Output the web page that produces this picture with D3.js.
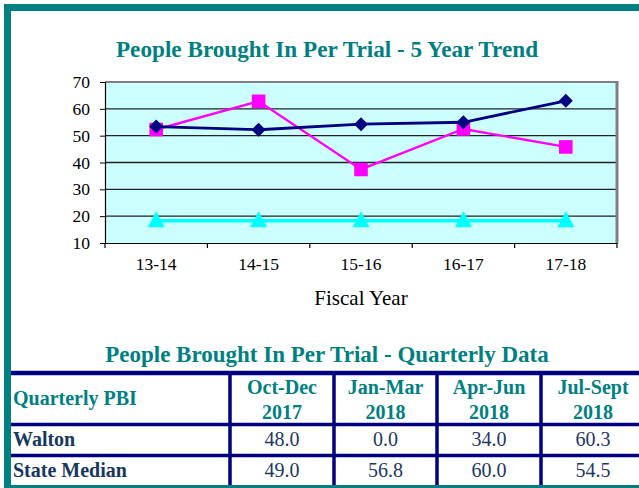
<!DOCTYPE html>
<html>
<head>
<meta charset="utf-8">
<script src="https://cdn.jsdelivr.net/npm/d3@7"></script>
<style>
  html, body { margin: 0; padding: 0; background: #fff; }
  svg { display: block; }
  text { font-family: "Liberation Serif", "Times New Roman", serif; }
</style>
</head>
<body>
<div id="chart"></div>
<script>
// ---- Data ----
const chartTitle = "People Brought In Per Trial - 5 Year Trend";
const xAxisTitle = "Fiscal Year";
const fiscalYears = ["13-14", "14-15", "15-16", "16-17", "17-18"];
const navySeries = [53.4, 52.2, 54.3, 55.0, 63.0];
const magentaSeries = [52.3, 62.8, 37.4, 52.5, 45.8];
const cyanSeries = [18.3, 18.3, 18.3, 18.3, 18.3];
const yTicks = [10, 20, 30, 40, 50, 60, 70];

const tableTitle = "People Brought In Per Trial - Quarterly Data";
const tableCorner = "Quarterly PBI";
const quarterLine1 = ["Oct-Dec", "Jan-Mar", "Apr-Jun", "Jul-Sept"];
const quarterLine2 = ["2017", "2018", "2018", "2018"];
const rowNames = ["Walton", "State Median"];
const waltonValues = [48.0, 0.0, 34.0, 60.3];
const stateMedianValues = [49.0, 56.8, 60.0, 54.5];

// ---- Canvas ----
const W = 639, H = 488;
const svg = d3.select("#chart").append("svg").attr("width", W).attr("height", H);

// Teal frame
svg.append("rect").attr("x", 4).attr("y", 4).attr("width", W - 4).attr("height", H - 4).attr("fill", "#008080");
svg.append("rect").attr("x", 11).attr("y", 11).attr("width", W - 11).attr("height", 474).attr("fill", "#ffffff");

// ---- Line chart ----
const plot = { left: 105, right: 617, top: 82, bottom: 243 };
const x = d3.scaleBand().domain(fiscalYears).range([plot.left, plot.right]).padding(0);
const y = d3.scaleLinear().domain([10, 70]).range([plot.bottom, plot.top]);

svg.append("text").attr("x", 327).attr("y", 57).attr("text-anchor", "middle")
  .attr("font-size", 23.2).attr("font-weight", "bold").attr("fill", "#008080").text(chartTitle);

svg.append("rect").attr("x", plot.left).attr("y", plot.top)
  .attr("width", plot.right - plot.left).attr("height", plot.bottom - plot.top)
  .attr("fill", "#ccffff");

// gridlines
svg.append("g").selectAll("line").data(yTicks.filter(t => t > 10 && t < 70)).join("line")
  .attr("x1", plot.left).attr("x2", plot.right)
  .attr("y1", d => y(d)).attr("y2", d => y(d))
  .attr("stroke", "#222").attr("stroke-width", 1.3);

// plot border (top/right gray)
svg.append("line").attr("x1", plot.left).attr("x2", plot.right + 1.5).attr("y1", plot.top).attr("y2", plot.top)
  .attr("stroke", "#808080").attr("stroke-width", 2);
svg.append("line").attr("x1", plot.right).attr("x2", plot.right).attr("y1", plot.top).attr("y2", plot.bottom)
  .attr("stroke", "#808080").attr("stroke-width", 3);

// Y axis
const yAxis = d3.axisLeft(y).tickValues(yTicks).tickSize(5).tickPadding(10).tickFormat(d3.format("d"));
const gy = svg.append("g").attr("transform", `translate(${plot.left},0)`).call(yAxis);
gy.select(".domain").attr("stroke", "#000").attr("stroke-width", 1.2);
gy.selectAll(".tick line").attr("stroke", "#000");
gy.selectAll(".tick text").attr("font-size", 17.5).attr("fill", "#000");

// X axis
const xAxis = d3.axisBottom(x).tickSize(0).tickPadding(15);
const gx = svg.append("g").attr("transform", `translate(0,${plot.bottom})`).call(xAxis);
gx.select(".domain").attr("stroke", "#000").attr("stroke-width", 1.2);
gx.selectAll(".tick text").attr("font-size", 17.5).attr("fill", "#000");
// tick marks at band boundaries
const boundaries = fiscalYears.map(d => x(d)).concat([x(fiscalYears[fiscalYears.length - 1]) + x.bandwidth()]);
svg.append("g").selectAll("line").data(boundaries).join("line")
  .attr("x1", d => d).attr("x2", d => d).attr("y1", plot.bottom).attr("y2", plot.bottom + 5)
  .attr("stroke", "#000").attr("stroke-width", 1.2);

svg.append("text").attr("x", 361).attr("y", 305).attr("text-anchor", "middle")
  .attr("font-size", 21).attr("fill", "#000").text(xAxisTitle);

const cx = d => x(d) + x.bandwidth() / 2;
const line = d3.line().x(d => cx(d.k)).y(d => y(d.v));
const toPts = arr => arr.map((v, i) => ({ k: fiscalYears[i], v }));

// cyan
svg.append("path").datum(toPts(cyanSeries)).attr("d", line).attr("fill", "none")
  .attr("stroke", "#00ffff").attr("stroke-width", 3.4);
svg.append("g").selectAll("path").data(toPts(cyanSeries)).join("path")
  .attr("d", d => {
    const px = cx(d.k), py = y(d.v);
    return `M${px},${py - 9.5}L${px + 8.5},${py + 6.5}L${px - 8.5},${py + 6.5}Z`;
  })
  .attr("fill", "#00ffff");

// magenta
svg.append("path").datum(toPts(magentaSeries)).attr("d", line).attr("fill", "none")
  .attr("stroke", "#ff00ff").attr("stroke-width", 2.4);
svg.append("g").selectAll("rect").data(toPts(magentaSeries)).join("rect")
  .attr("x", d => cx(d.k) - 6.8).attr("y", d => y(d.v) - 6.8).attr("width", 13.6).attr("height", 13.6)
  .attr("fill", "#ff00ff");

// navy
svg.append("path").datum(toPts(navySeries)).attr("d", line).attr("fill", "none")
  .attr("stroke", "#000080").attr("stroke-width", 2.8);
svg.append("g").selectAll("path").data(toPts(navySeries)).join("path")
  .attr("d", d => {
    const px = cx(d.k), py = y(d.v);
    return `M${px},${py - 7}L${px + 7},${py}L${px},${py + 7}L${px - 7},${py}Z`;
  })
  .attr("fill", "#000080");

// ---- Table ----
svg.append("text").attr("x", 327).attr("y", 362).attr("text-anchor", "middle")
  .attr("font-size", 23).attr("font-weight", "bold").attr("fill", "#008080").text(tableTitle);

const colEdges = [11, 230, 334, 437, 541, 645];
const rowEdges = [373, 424.5, 455.5, 486];
const navy = "#000080";
const tbl = svg.append("g");
// horizontal lines
tbl.selectAll("line.h").data(rowEdges.slice(0, 3)).join("line").attr("class", "h")
  .attr("x1", 11).attr("x2", W).attr("y1", d => d).attr("y2", d => d)
  .attr("stroke", navy).attr("stroke-width", (d, i) => i === 0 ? 4.5 : 3.5);
// vertical lines
tbl.selectAll("line.v").data(colEdges.slice(1, 5)).join("line").attr("class", "v")
  .attr("x1", d => d).attr("x2", d => d).attr("y1", 373).attr("y2", 485)
  .attr("stroke", navy).attr("stroke-width", 3.5);

const colCenter = i => (colEdges[i + 1] + colEdges[i + 2]) / 2;
tbl.append("text").attr("x", 13).attr("y", 405).attr("font-size", 20).attr("font-weight", "bold")
  .attr("fill", "#008080").text(tableCorner);
quarterLine1.forEach((q, i) => {
  tbl.append("text").attr("x", colCenter(i)).attr("y", 394).attr("text-anchor", "middle")
    .attr("font-size", 20).attr("font-weight", "bold").attr("fill", "#008080").text(q);
  tbl.append("text").attr("x", colCenter(i)).attr("y", 419).attr("text-anchor", "middle")
    .attr("font-size", 20).attr("font-weight", "bold").attr("fill", "#008080").text(quarterLine2[i]);
});
const rowsData = [waltonValues, stateMedianValues];
const rowBase = [446, 477];
rowNames.forEach((r, ri) => {
  tbl.append("text").attr("x", 13).attr("y", rowBase[ri]).attr("font-size", 20).attr("font-weight", "bold")
    .attr("fill", "#17375e").text(r);
  rowsData[ri].forEach((v, i) => {
    tbl.append("text").attr("x", colCenter(i)).attr("y", rowBase[ri]).attr("text-anchor", "middle")
      .attr("font-size", 20).attr("fill", "#1f3763").text(d3.format(".1f")(v));
  });
});
</script>
</body>
</html>
